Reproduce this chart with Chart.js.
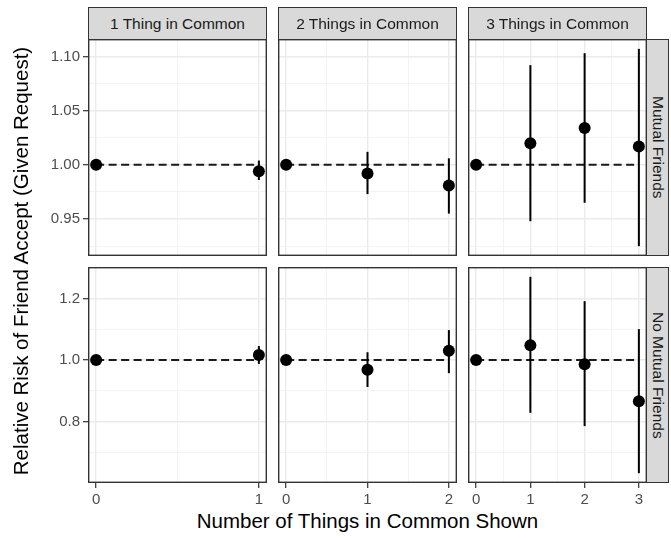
<!DOCTYPE html>
<html lang="en">
<head>
<meta charset="UTF-8">
<title>Relative Risk of Friend Accept</title>
<script src="https://cdn.jsdelivr.net/npm/chart.js@4.4.1/dist/chart.umd.min.js"></script>
<style>
    body { margin: 0; background: #fff; font-family: "Liberation Sans", Arial, sans-serif; }
    #wrap { position: relative; width: 671px; height: 538px; overflow: hidden; }
    canvas { position: absolute; }
    .strip {
        position: absolute; box-sizing: border-box; background: #d9d9d9;
        border: 1px solid #333; color: #1a1a1a; font-size: 15.5px;
        display: flex; align-items: center; justify-content: center; white-space: nowrap;
    }
    .side { writing-mode: vertical-rl; }
    .title { position: absolute; color: #000; font-size: 20.5px; text-align: center; white-space: nowrap; line-height: 24px; }
</style>
</head>
<body>
<div id="wrap"></div>

<script>
    // facet labels
    const thingsLabels = ['1 Thing in Common', '2 Things in Common', '3 Things in Common'];
    const friendLabels = ['Mutual Friends', 'No Mutual Friends'];

    // number of things shown, per column
    const thingsShown = [[0, 1], [0, 1, 2], [0, 1, 2, 3]];

    // mutual friends row: estimate and interval
    const mutualRR   = [[1.000, 0.994], [1.000, 0.992, 0.981], [1.000, 1.020, 1.034, 1.017]];
    const mutualLow  = [[null, 0.986], [null, 0.973, 0.955], [null, 0.948, 0.965, 0.925]];
    const mutualHigh = [[null, 1.004], [null, 1.012, 1.006], [null, 1.092, 1.103, 1.107]];

    // no mutual friends row
    const noMutualRR   = [[1.000, 1.016], [1.000, 0.968, 1.030], [1.000, 1.048, 0.986, 0.866]];
    const noMutualLow  = [[null, 0.987], [null, 0.912, 0.957], [null, 0.828, 0.785, 0.632]];
    const noMutualHigh = [[null, 1.045], [null, 1.025, 1.097], [null, 1.270, 1.191, 1.100]];

    // y ticks (labelled) and minor grid lines, per row
    const mutualTicks = [0.95, 1.00, 1.05, 1.10];
    const mutualTickLabels = ['0.95', '1.00', '1.05', '1.10'];
    const mutualMinor = [0.925, 0.975, 1.025, 1.075];
    const noMutualTicks = [0.8, 1.0, 1.2];
    const noMutualTickLabels = ['0.8', '1.0', '1.2'];
    const noMutualMinor = [0.7, 0.9, 1.1];

    const baseline = 1;

    // panel geometry
    const colLeft = [88, 278, 468];
    const panelW = 179;
    const rowTop = [39, 267];
    const panelH = [217, 216];

    const rows = [
        { est: mutualRR, lo: mutualLow, hi: mutualHigh, ticks: mutualTicks, labels: mutualTickLabels, minor: mutualMinor },
        { est: noMutualRR, lo: noMutualLow, hi: noMutualHigh, ticks: noMutualTicks, labels: noMutualTickLabels, minor: noMutualMinor }
    ];

    Chart.defaults.font.family = '"Liberation Sans", Arial, sans-serif';

    // draws the dark frame round each panel
    const panelBorder = {
        id: 'panelBorder',
        afterDraw: function (chart) {
            var a = chart.chartArea;
            var ctx = chart.ctx;
            ctx.save();
            ctx.strokeStyle = '#333333';
            ctx.lineWidth = 1.4;
            ctx.strokeRect(a.left + 0.7, a.top + 0.7, a.right - a.left - 1.4, a.bottom - a.top - 1.4);
            ctx.restore();
        }
    };

    var wrap = document.getElementById('wrap');

    function makePanel(r, c) {
        var row = rows[r];
        var xs = thingsShown[c];
        var xMax = xs[xs.length - 1];
        var padL = c == 0 ? 60 : 0;
        var padB = r == 1 ? 26 : 0;

        var canvas = document.createElement('canvas');
        canvas.width = panelW + padL;
        canvas.height = panelH[r] + padB;
        canvas.style.left = (colLeft[c] - padL) + 'px';
        canvas.style.top = rowTop[r] + 'px';
        wrap.appendChild(canvas);

        // shared y range for the row, 5% expansion like ggplot
        var all = [];
        row.est.concat(row.lo, row.hi).forEach(function (a) {
            a.forEach(function (v) { if (v != null) all.push(v); });
        });
        var yMin = Math.min.apply(null, all);
        var yMax = Math.max.apply(null, all);
        var ySpan = yMax - yMin;

        var xMinor = [];
        for (var k = 0; k < xs.length - 1; k++) xMinor.push((xs[k] + xs[k + 1]) / 2);

        var datasets = [];
        // dashed reference at 1
        datasets.push({
            type: 'line',
            data: [{ x: 0, y: baseline }, { x: xMax, y: baseline }],
            borderColor: '#1a1a1a', borderWidth: 2, borderDash: [8, 4.5],
            pointRadius: 0, order: 3
        });
        // error bars
        xs.forEach(function (x, i) {
            if (row.lo[c][i] == null) return;
            datasets.push({
                type: 'line',
                data: [{ x: x, y: row.lo[c][i] }, { x: x, y: row.hi[c][i] }],
                borderColor: '#000', borderWidth: 2, pointRadius: 0, order: 2
            });
        });
        // point estimates
        datasets.push({
            type: 'scatter',
            data: xs.map(function (x, i) { return { x: x, y: row.est[c][i] }; }),
            backgroundColor: '#000', borderWidth: 0, pointRadius: 6, order: 1
        });

        new Chart(canvas, {
            type: 'scatter',
            data: { datasets: datasets },
            plugins: [panelBorder],
            options: {
                responsive: false,
                animation: false,
                events: [],
                layout: { padding: 0, autoPadding: false },
                plugins: { legend: { display: false }, tooltip: { enabled: false } },
                scales: {
                    x: {
                        type: 'linear',
                        min: -0.05 * xMax,
                        max: 1.05 * xMax,
                        afterBuildTicks: function (scale) {
                            scale.ticks = xs.concat(xMinor).sort(function (a, b) { return a - b; })
                                .map(function (v) { return { value: v }; });
                        },
                        afterFit: function (scale) {
                            scale.height = padB;
                            scale.paddingLeft = 0;
                            scale.paddingRight = 0;
                        },
                        border: { display: false },
                        grid: {
                            color: function (ctx) { return xs.indexOf(ctx.tick.value) < 0 ? '#f2f2f2' : '#ebebeb'; },
                            lineWidth: function (ctx) { return xs.indexOf(ctx.tick.value) < 0 ? 0.9 : 1.4; },
                            drawTicks: r == 1,
                            tickLength: 5,
                            tickWidth: 1.2,
                            tickColor: function (ctx) { return xs.indexOf(ctx.tick.value) < 0 ? 'rgba(0,0,0,0)' : '#333333'; }
                        },
                        ticks: {
                            display: r == 1,
                            autoSkip: false,
                            maxRotation: 0,
                            padding: 3,
                            color: '#4d4d4d',
                            font: { size: 15 },
                            callback: function (v) { return xs.indexOf(v) < 0 ? '' : String(v); }
                        }
                    },
                    y: {
                        min: yMin - 0.05 * ySpan,
                        max: yMax + 0.05 * ySpan,
                        afterBuildTicks: function (scale) {
                            scale.ticks = row.ticks.concat(row.minor).sort(function (a, b) { return a - b; })
                                .map(function (v) { return { value: v }; });
                        },
                        afterFit: function (scale) {
                            scale.width = padL;
                            scale.paddingTop = 0;
                            scale.paddingBottom = 0;
                        },
                        border: { display: false },
                        grid: {
                            color: function (ctx) { return row.ticks.indexOf(ctx.tick.value) < 0 ? '#f2f2f2' : '#ebebeb'; },
                            lineWidth: function (ctx) { return row.ticks.indexOf(ctx.tick.value) < 0 ? 0.9 : 1.4; },
                            drawTicks: c == 0,
                            tickLength: 5,
                            tickWidth: 1.2,
                            tickColor: function (ctx) { return row.ticks.indexOf(ctx.tick.value) < 0 ? 'rgba(0,0,0,0)' : '#333333'; }
                        },
                        ticks: {
                            display: c == 0,
                            autoSkip: false,
                            padding: 3,
                            color: '#4d4d4d',
                            font: { size: 15 },
                            callback: function (v) {
                                var k = row.ticks.indexOf(v);
                                return k < 0 ? '' : row.labels[k];
                            }
                        }
                    }
                }
            }
        });
    }

    // panels
    for (var r = 0; r < 2; r++) {
        for (var c = 0; c < 3; c++) makePanel(r, c);
    }

    // column strips on top
    thingsLabels.forEach(function (txt, c) {
        var s = document.createElement('div');
        s.className = 'strip';
        s.textContent = txt;
        s.style.left = colLeft[c] + 'px';
        s.style.top = '7px';
        s.style.width = panelW + 'px';
        s.style.height = '33px';
        wrap.appendChild(s);
    });

    // row strips on the right
    friendLabels.forEach(function (txt, r) {
        var s = document.createElement('div');
        s.className = 'strip side';
        s.textContent = txt;
        s.style.left = (colLeft[2] + panelW - 1) + 'px';
        s.style.top = rowTop[r] + 'px';
        s.style.width = '23px';
        s.style.height = panelH[r] + 'px';
        wrap.appendChild(s);
    });

    // axis titles
    var xt = document.createElement('div');
    xt.className = 'title';
    xt.textContent = 'Number of Things in Common Shown';
    xt.style.left = colLeft[0] + 'px';
    xt.style.width = (colLeft[2] + panelW - colLeft[0]) + 'px';
    xt.style.top = '509px';
    wrap.appendChild(xt);

    var yt = document.createElement('div');
    yt.className = 'title';
    yt.textContent = 'Relative Risk of Friend Accept (Given Request)';
    yt.style.width = '460px';
    yt.style.height = '24px';
    yt.style.left = (21 - 230) + 'px';
    yt.style.top = (261 - 12) + 'px';
    yt.style.transform = 'rotate(-90deg)';
    wrap.appendChild(yt);
</script>
</body>
</html>
